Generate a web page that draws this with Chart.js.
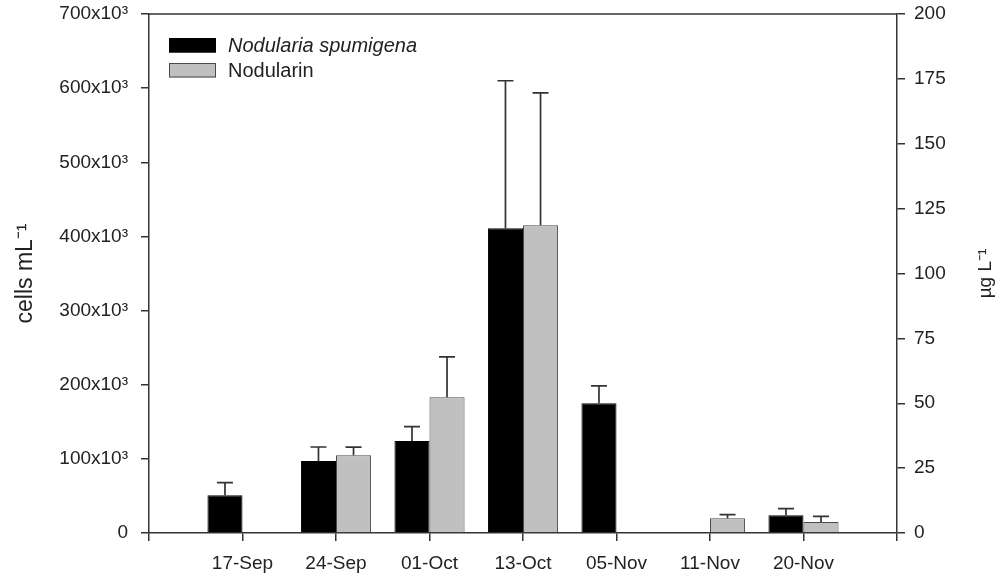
<!DOCTYPE html>
<html>
<head>
<meta charset="utf-8">
<script src="https://cdn.jsdelivr.net/npm/chart.js@4/dist/chart.umd.min.js"></script>
<style>
  html, body { margin: 0; padding: 0; background: #fff; }
  #wrap { width: 1000px; height: 577px; position: relative; }
</style>
</head>
<body>
<div id="wrap"><canvas id="barChart"></canvas></div>
<script>
// categories (blank slots at both ends keep the axis padding of the original plot)
const dates = ['', '17-Sep', '24-Sep', '01-Oct', '13-Oct', '05-Nov', '11-Nov', '20-Nov', ''];

// Nodularia spumigena, cells mL-1 (left axis)
const cellsMean = [null, 51000, 97000, 124000, 411000, 175000, null, 24000, null];
const cellsErr  = [null, 17000, 19000, 19500, 199000, 23500, null, 9000, null];

// Nodularin, ug L-1 (right axis)
const toxinMean = [null, null, 30.0, 52.3, 118.6, null, 5.7, 4.2, null];
const toxinErr  = [null, null, 3.1, 15.6, 51.0, null, 1.4, 2.2, null];

const leftTicks = [0, 100000, 200000, 300000, 400000, 500000, 600000, 700000];
const rightTicks = [0, 25, 50, 75, 100, 125, 150, 175, 200];

const axisColor = '#333';
const textColor = '#222';
const fontFamily = '"Liberation Sans", Arial, sans-serif';

// upper error bars, drawn from the same scales as the bars
const errorBars = {
  id: 'errorBars',
  afterDatasetsDraw(chart) {
    const ctx = chart.ctx;
    chart.data.datasets.forEach((ds, i) => {
      const meta = chart.getDatasetMeta(i);
      const scale = chart.scales[meta.yAxisID];
      ctx.save();
      ctx.strokeStyle = '#333';
      ctx.lineWidth = 1.7;
      ds.data.forEach((v, j) => {
        const e = ds.errors[j];
        if (v == null || e == null) return;
        const bar = meta.data[j];
        const yTop = scale.getPixelForValue(v + e);
        ctx.beginPath();
        ctx.moveTo(bar.x, bar.y);
        ctx.lineTo(bar.x, yTop);
        ctx.moveTo(bar.x - 8, yTop);
        ctx.lineTo(bar.x + 8, yTop);
        ctx.stroke();
      });
      ctx.restore();
    });
  }
};

// top frame line, legend and right-hand title (reads bottom to top like the left one)
const frameAndLegend = {
  id: 'frameAndLegend',
  afterDraw(chart) {
    const ctx = chart.ctx;
    const a = chart.chartArea;
    ctx.save();
    ctx.strokeStyle = axisColor;
    ctx.lineWidth = 1.5;
    ctx.beginPath();
    ctx.moveTo(a.left, a.top);
    ctx.lineTo(a.right, a.top);
    ctx.stroke();

    // legend
    chart.data.datasets.forEach((ds, i) => {
      const bx = a.left + 20, by = a.top + 24 + i * 25;
      ctx.fillStyle = ds.backgroundColor;
      ctx.fillRect(bx, by, 47, 14.5);
      ctx.strokeStyle = ds.borderColor;
      ctx.lineWidth = 1;
      ctx.strokeRect(bx + 0.5, by + 0.5, 46, 13.5);
      ctx.fillStyle = textColor;
      ctx.font = (i === 0 ? 'italic ' : '') + '20px ' + fontFamily;
      ctx.textBaseline = 'middle';
      ctx.textAlign = 'left';
      ctx.fillText(ds.label, bx + 59, by + 8);
    });

    // right axis title
    ctx.translate(986, (a.top + a.bottom) / 2);
    ctx.rotate(-Math.PI / 2);
    ctx.fillStyle = textColor;
    ctx.font = '19px ' + fontFamily;
    ctx.textAlign = 'center';
    ctx.textBaseline = 'middle';
    ctx.fillText('µg L⁻¹', 0, 0);
    ctx.restore();
  }
};

new Chart(document.getElementById('barChart'), {
  type: 'bar',
  data: {
    labels: dates,
    datasets: [{
      label: 'Nodularia spumigena',
      data: cellsMean,
      errors: cellsErr,
      yAxisID: 'y',
      backgroundColor: '#000000',
      borderColor: '#000000',
      borderWidth: 1
    }, {
      label: 'Nodularin',
      data: toxinMean,
      errors: toxinErr,
      yAxisID: 'y1',
      backgroundColor: '#c0c0c0',
      borderColor: '#4a4a4a',
      borderWidth: 1
    }]
  },
  options: {
    responsive: true,
    maintainAspectRatio: false,
    animation: false,
    categoryPercentage: 0.75,
    barPercentage: 1.0,
    layout: { padding: { top: 14, left: 0, right: 0, bottom: 0 } },
    plugins: {
      legend: { display: false },
      tooltip: { enabled: false }
    },
    scales: {
      x: {
        offset: false,
        grid: { offset: false, drawOnChartArea: false, tickLength: 8, color: axisColor, lineWidth: 1.5 },
        border: { color: axisColor, width: 1.5 },
        ticks: {
          color: textColor, font: { family: fontFamily, size: 19 },
          maxRotation: 0, autoSkip: false, padding: 11
        },
        afterFit: s => { s.height = 44; }
      },
      y: {
        position: 'left',
        min: 0, max: 700000,
        afterBuildTicks: s => { s.ticks = leftTicks.map(v => ({ value: v })); },
        grid: { drawOnChartArea: false, tickLength: 8, color: axisColor, lineWidth: 1.5 },
        border: { color: axisColor, width: 1.5 },
        ticks: {
          color: textColor, font: { family: fontFamily, size: 19, lineHeight: 0.1 }, padding: 13,
          callback: v => v === 0 ? '0' : (v / 1000) + 'x10³'
        },
        title: {
          display: true, text: 'cells mL⁻¹', color: textColor,
          font: { family: fontFamily, size: 23 }, padding: { top: 12, bottom: 0 }
        },
        afterFit: s => { s.width = 149; }
      },
      y1: {
        position: 'right',
        min: 0, max: 200,
        afterBuildTicks: s => { s.ticks = rightTicks.map(v => ({ value: v })); },
        grid: { drawOnChartArea: false, tickLength: 8, color: axisColor, lineWidth: 1.5 },
        border: { color: axisColor, width: 1.5 },
        ticks: { color: textColor, font: { family: fontFamily, size: 19, lineHeight: 0.1 }, padding: 9 },
        afterFit: s => { s.width = 103; }
      }
    }
  },
  plugins: [errorBars, frameAndLegend]
});
</script>
</body>
</html>
